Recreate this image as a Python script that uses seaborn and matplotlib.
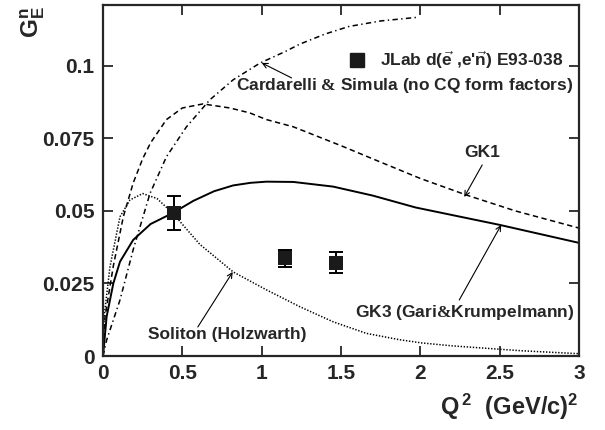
import matplotlib
matplotlib.use("Agg")
import matplotlib.pyplot as plt
import seaborn as sns
import numpy as np
from matplotlib.lines import Line2D

# ---------------- data ----------------
gk3_q = [0, 0.023, 0.065, 0.107, 0.19, 0.30, 0.44, 0.57, 0.70, 0.82, 0.93, 1.03, 1.2, 1.45, 1.7, 1.97, 2.5, 3.0]
gk3_v = [0, 0.0136, 0.025, 0.0325, 0.040, 0.0455, 0.0493, 0.0535, 0.0568, 0.0588, 0.0597, 0.0601, 0.0600, 0.0584, 0.0553, 0.0512, 0.0452, 0.0390]

gk1_q = [0, 0.013, 0.065, 0.128, 0.19, 0.25, 0.30, 0.40, 0.50, 0.63, 0.80, 0.925, 1.03, 1.2, 1.5, 1.76, 2.0, 2.29, 2.6, 3.0]
gk1_v = [0, 0.0136, 0.031, 0.048, 0.0596, 0.068, 0.0735, 0.0815, 0.0855, 0.0869, 0.0855, 0.0838, 0.0815, 0.079, 0.0725, 0.0666, 0.0612, 0.0555, 0.050, 0.0441]

cs_q = [0, 0.023, 0.107, 0.19, 0.296, 0.40, 0.526, 0.673, 0.82, 0.99, 1.15, 1.24, 1.40, 1.55, 1.75, 1.99]
cs_v = [0, 0.0055, 0.0193, 0.0366, 0.056, 0.0687, 0.079, 0.0883, 0.0952, 0.101, 0.1050, 0.1075, 0.1110, 0.1136, 0.1155, 0.1168]

sol_q = [0, 0.008, 0.044, 0.107, 0.17, 0.25, 0.34, 0.44, 0.61, 0.82, 1.03, 1.24, 1.45, 1.66, 1.87, 2.01, 2.2, 2.43, 2.64, 3.0]
sol_v = [0, 0.014, 0.0308, 0.048, 0.0538, 0.056, 0.0543, 0.0492, 0.0385, 0.029, 0.0228, 0.017, 0.0118, 0.0078, 0.0056, 0.0045, 0.0035, 0.0026, 0.0018, 0.0008]

data_q = [0.445, 1.145, 1.47]
data_v = [0.0493, 0.0337, 0.0322]
data_err = [0.0060, 0.0030, 0.0035]

xticks = [0, 0.5, 1, 1.5, 2, 2.5, 3]
xticklabels = ["0", "0.5", "1", "1.5", "2", "2.5", "3"]
yticks = [0, 0.025, 0.05, 0.075, 0.1]
yticklabels = ["0", "0.025", "0.05", "0.075", "0.1"]

# ---------------- style ----------------
sns.set_style("ticks")
plt.rcParams["font.family"] = ["Liberation Sans", "DejaVu Sans"]
plt.rcParams["font.weight"] = "bold"
plt.rcParams["mathtext.fontset"] = "custom"
plt.rcParams["mathtext.rm"] = "Liberation Serif"
plt.rcParams["mathtext.bf"] = "Liberation Sans:bold"
plt.rcParams["mathtext.sf"] = "Liberation Sans:bold"
plt.rcParams["mathtext.it"] = "Liberation Sans:bold:italic"

fig = plt.figure(figsize=(6.05, 4.30), dpi=100)
ax = fig.add_axes([103 / 605, 1 - 356 / 430, 476 / 605, 351 / 430])

lw_curve = 1.1
sns.lineplot(x=gk3_q, y=gk3_v, ax=ax, color="black", lw=1.4, linestyle="-", sort=False, estimator=None)
sns.lineplot(x=gk1_q, y=gk1_v, ax=ax, color="black", lw=lw_curve, linestyle=(0, (3.5, 2.3)), sort=False, estimator=None)
sns.lineplot(x=cs_q, y=cs_v, ax=ax, color="black", lw=lw_curve, linestyle=(0, (3.5, 2.2, 0.9, 2.2)), sort=False, estimator=None)
sns.lineplot(x=sol_q, y=sol_v, ax=ax, color="black", lw=lw_curve, linestyle=(0, (0.9, 1.1)), sort=False, estimator=None)

ax.errorbar(data_q, data_v, yerr=data_err, fmt="none", ecolor="black", elinewidth=1.4, capsize=4.7, capthick=1.4, zorder=4)
sns.scatterplot(x=data_q, y=data_v, ax=ax, marker="s", s=92, color="#1a1a1a", edgecolor="#1a1a1a", linewidth=0, zorder=5)

ax.set_xlim(0, 3)
ax.set_ylim(0, 0.121)
ax.set_xticks(xticks)
ax.set_xticklabels(xticklabels)
ax.set_yticks(yticks)
ax.set_yticklabels(yticklabels)
ax.tick_params(direction="in", length=7, width=1.3, top=True, right=True, labelsize=15, pad=6)
for sp in ax.spines.values():
    sp.set_linewidth(1.6)
    sp.set_visible(True)
ax.set_xlabel("")
ax.set_ylabel("")

# axis titles
fig.text(578 / 605, 1 - 407 / 430, r"$\mathbf{Q^{\,2}\ \ (GeV/c)^{2}}$", ha="right", va="center", fontsize=17)
fig.text(33 / 605, 1 - 6 / 430, r"$\mathbf{G_{E}^{n}}$", rotation=90, ha="center", va="top", fontsize=17.5)

# legend
h = Line2D([], [], marker="s", linestyle="none", color="#1a1a1a", markersize=9.5)
leg = ax.legend([h], [r"JLab d($\vec{\mathbf{e}}$ ,e'$\vec{\mathbf{n}}$) E93-038"], loc="center left",
                bbox_to_anchor=((349 - 103) / 476, (356 - 60) / 351), frameon=False,
                handlelength=0.9, handletextpad=0.9, borderpad=0, borderaxespad=0,
                prop={"size": 12.5, "weight": "bold"})

def px2d(px, py):
    return ((px - 103) / 159.0, (356 - py) / 2900.0)

arrow = dict(arrowstyle="->", color="black", lw=0.8, shrinkA=0, shrinkB=0, mutation_scale=9)
ax.annotate(r"Cardarelli $\mathrm{&}$ Simula (no CQ form factors)", xy=px2d(405, 86),
            ha="center", va="center", fontsize=12.5, fontweight="bold")
ax.annotate("", xy=px2d(262, 63), xytext=px2d(292, 78), arrowprops=arrow)
ax.annotate("GK1", xy=px2d(483, 153), ha="center", va="center",
            fontsize=12.5, fontweight="bold")
ax.annotate("", xy=px2d(465, 197), xytext=px2d(483, 165), arrowprops=arrow)
ax.annotate(r"GK3 (Gari$\mathrm{&}$Krumpelmann)", xy=px2d(465, 313), ha="center", va="center",
            fontsize=12.5, fontweight="bold")
ax.annotate("", xy=px2d(502, 225), xytext=px2d(460, 300), arrowprops=arrow)
ax.annotate("Soliton (Holzwarth)", xy=px2d(228, 335), ha="center", va="center",
            fontsize=12.5, fontweight="bold")
ax.annotate("", xy=px2d(233, 272), xytext=px2d(198, 327), arrowprops=arrow)

fig.savefig("out.png", dpi=100)
